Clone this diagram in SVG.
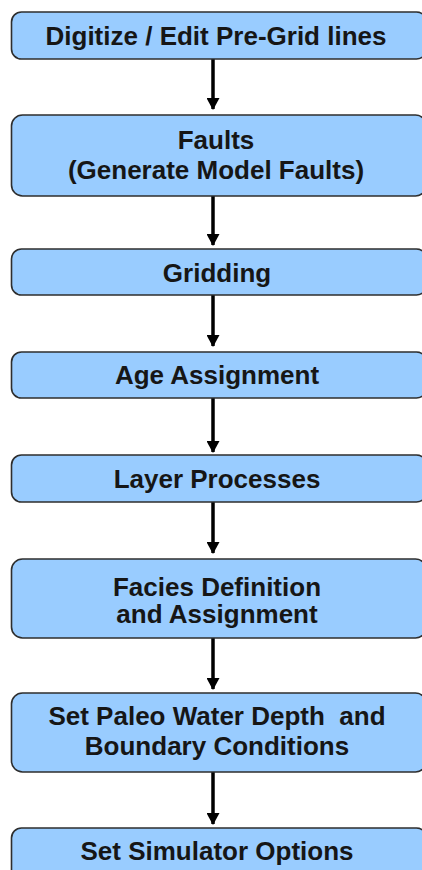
<svg xmlns="http://www.w3.org/2000/svg" width="422" height="870" viewBox="0 0 422 870">
  <style>
    .box { fill: #99ccff; stroke: #2e2e2e; stroke-width: 1.6; }
    .lbl { font-family: "Liberation Sans", Arial, sans-serif; font-weight: bold; font-size: 26px; fill: #161616; text-anchor: middle; white-space: pre; }
    .link { stroke: #000; stroke-width: 3.5; fill: none; marker-end: url(#head); }
  </style>
  <defs>
    <!-- arrowhead drawn along +x; orient="auto" turns it to follow each line -->
    <marker id="head" markerUnits="userSpaceOnUse" markerWidth="12" markerHeight="13" refX="11" refY="6.5" orient="auto" viewBox="0 0 12 13">
      <path d="M0,0 L12,6.5 L0,13 Z" fill="#000"/>
    </marker>
  </defs>
  <rect width="422" height="870" fill="#fff"/>

  <g id="connectors">
    <line class="link" x1="213" y1="59" x2="213" y2="109"/>
    <line class="link" x1="213" y1="196" x2="213" y2="245"/>
    <line class="link" x1="213" y1="295" x2="213" y2="346"/>
    <line class="link" x1="213" y1="398" x2="213" y2="452"/>
    <line class="link" x1="213" y1="502" x2="213" y2="553"/>
    <line class="link" x1="213" y1="638" x2="213" y2="689"/>
    <line class="link" x1="213" y1="772" x2="213" y2="824"/>
  </g>

  <g id="digitize">
    <rect class="box" x="11.5" y="12" width="415" height="47" rx="10"/>
    <text class="lbl" x="216" y="45">Digitize / Edit Pre-Grid lines</text>
  </g>
  <g id="faults">
    <rect class="box" x="11.5" y="115" width="415" height="81" rx="11"/>
    <text class="lbl" x="216" y="149">Faults<tspan x="216" dy="30">(Generate Model Faults)</tspan></text>
  </g>
  <g id="gridding">
    <rect class="box" x="11.5" y="249" width="415" height="46" rx="10"/>
    <text class="lbl" x="217" y="282">Gridding</text>
  </g>
  <g id="age">
    <rect class="box" x="11.5" y="352" width="415" height="46" rx="10"/>
    <text class="lbl" x="217" y="384">Age Assignment</text>
  </g>
  <g id="layer">
    <rect class="box" x="11.5" y="455" width="415" height="47" rx="10"/>
    <text class="lbl" x="217" y="488">Layer Processes</text>
  </g>
  <g id="facies">
    <rect class="box" x="11.5" y="559" width="415" height="79" rx="11"/>
    <text class="lbl" x="217" y="596">Facies Definition<tspan x="217" dy="27">and Assignment</tspan></text>
  </g>
  <g id="paleo">
    <rect class="box" x="11.5" y="693" width="415" height="79" rx="11"/>
    <text class="lbl" x="217" y="725">Set Paleo Water Depth  and<tspan x="217" dy="29.5">Boundary Conditions</tspan></text>
  </g>
  <g id="simulator">
    <rect class="box" x="11.5" y="828" width="415" height="60" rx="10"/>
    <text class="lbl" x="217" y="860">Set Simulator Options</text>
  </g>
</svg>
